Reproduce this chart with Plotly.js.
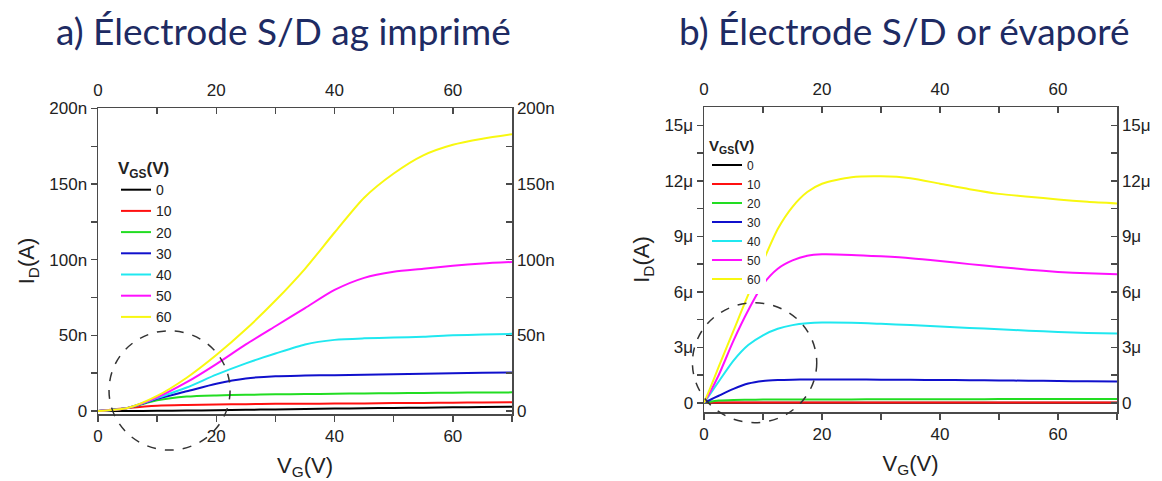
<!DOCTYPE html>
<html>
<head>
<meta charset="utf-8">
<script src="https://cdn.plot.ly/plotly-3.0.1.min.js"></script>
<style>html,body{margin:0;padding:0;background:#fff;}#chart{width:1162px;height:481px;}</style>
</head>
<body>
<div id="chart"></div>
<script>
// ---------- DATA ----------
const vgsLabels = ['0', '10', '20', '30', '40', '50', '60'];
const seriesColors = ['#000000', '#ff1010', '#22dd22', '#1010cc', '#20e8f0', '#ff10ff', '#f8f810'];

// Panel a: printed Ag S/D electrodes, I_D in nA
const vgA = [0, 5, 10, 15, 20, 25, 30, 35, 40, 45, 50, 55, 60, 65, 70];
const idA_0  = [0, 0, 0.1, 0.3, 0.5, 0.8, 1.0, 1.3, 1.6, 1.8, 2.0, 2.2, 2.4, 2.6, 2.8];
const idA_10 = [0, 2, 3.5, 4, 4.3, 4.5, 4.7, 4.8, 4.9, 5.0, 5.2, 5.3, 5.5, 5.6, 5.8];
const idA_20 = [0, 2, 7, 9.5, 10.3, 10.7, 11, 11.2, 11.4, 11.6, 11.8, 11.9, 12.1, 12.2, 12.3];
const idA_30 = [0, 2, 8, 13, 18, 21.5, 23, 23.4, 23.7, 24, 24.3, 24.6, 25, 25.3, 25.5];
const idA_40 = [0, 2, 8.5, 15.5, 24, 31.5, 38, 44, 47, 48, 48.5, 49, 50, 50.5, 51];
const idA_50 = [0, 2, 9, 19, 31, 44, 56, 68, 80, 88, 92, 94, 96, 97.5, 98.5];
const idA_60 = [0, 2, 10, 22, 37, 54, 73, 94, 118, 141, 157, 169, 176, 180, 183];

// Panel b: evaporated Au S/D electrodes, I_D in µA
const vgB = [0, 1, 2.5, 5, 7.5, 10, 12.5, 15, 17.5, 20, 25, 30, 35, 40, 45, 50, 55, 60, 65, 70];
const idB_0  = [0, 0, 0, 0, 0, 0, 0, 0, 0, 0, 0, 0, 0, 0, 0, 0, 0, 0, 0, 0];
const idB_10 = [0, 0.01, 0.02, 0.02, 0.02, 0.02, 0.02, 0.02, 0.02, 0.02, 0.02, 0.02, 0.02, 0.02, 0.02, 0.02, 0.02, 0.02, 0.02, 0.02];
const idB_20 = [0, 0.06, 0.12, 0.15, 0.16, 0.17, 0.17, 0.18, 0.18, 0.18, 0.18, 0.19, 0.19, 0.19, 0.19, 0.2, 0.2, 0.2, 0.2, 0.2];
const idB_30 = [0, 0.15, 0.38, 0.75, 1.04, 1.18, 1.23, 1.25, 1.26, 1.26, 1.26, 1.25, 1.24, 1.23, 1.22, 1.21, 1.19, 1.18, 1.16, 1.15];
const idB_40 = [0, 0.45, 1.15, 2.28, 3.12, 3.65, 4.0, 4.2, 4.3, 4.34, 4.33, 4.27, 4.2, 4.12, 4.05, 3.98, 3.9, 3.83, 3.78, 3.75];
const idB_50 = [0, 0.55, 1.5, 3.36, 5.0, 6.4, 7.25, 7.7, 7.95, 8.03, 8.0, 7.92, 7.82, 7.67, 7.5, 7.35, 7.2, 7.08, 7.0, 6.95];
const idB_60 = [0, 0.75, 1.95, 3.9, 5.85, 7.65, 9.4, 10.6, 11.4, 11.85, 12.2, 12.25, 12.15, 11.85, 11.55, 11.3, 11.15, 11.0, 10.87, 10.78];

const panelATitle = 'a) Électrode S/D ag imprimé';
const panelBTitle = 'b) Électrode S/D or évaporé';

// ---------- TRACES ----------
const seriesA = [idA_0, idA_10, idA_20, idA_30, idA_40, idA_50, idA_60];
const seriesB = [idB_0, idB_10, idB_20, idB_30, idB_40, idB_50, idB_60];
const traces = [];
seriesA.forEach((ys, i) => traces.push({
  x: vgA, y: ys.map(v => v * 1e-9), type: 'scatter', mode: 'lines', name: vgsLabels[i],
  line: {color: seriesColors[i], width: 2, shape: 'spline', smoothing: 0.7},
  xaxis: 'x', yaxis: 'y', legend: 'legend', hoverinfo: 'skip'
}));
seriesB.forEach((ys, i) => traces.push({
  x: vgB, y: ys.map(v => v * 1e-6), type: 'scatter', mode: 'lines', name: vgsLabels[i],
  line: {color: seriesColors[i], width: 2, shape: 'spline', smoothing: 0.7},
  xaxis: 'x2', yaxis: 'y2', legend: 'legend2', hoverinfo: 'skip'
}));
// carriers for the mirrored (top / right) labelled axes
[['x3', 'y'], ['x', 'y3'], ['x4', 'y2'], ['x2', 'y4']].forEach(p => traces.push({
  x: [], y: [], type: 'scatter', mode: 'lines', xaxis: p[0], yaxis: p[1], showlegend: false, hoverinfo: 'skip'
}));

// ---------- LAYOUT ----------
const W = 1162, H = 481;
const AX = '#4a4a4a';
const tickFont = {family: 'Liberation Sans, Arial, sans-serif', size: 17, color: '#222'};
const titleFont = {family: 'Liberation Sans, Arial, sans-serif', size: 22, color: '#222'};

function xAx(dom, anchor, side, extra) {
  return Object.assign({
    domain: dom, anchor: anchor, side: side, range: [0, 70], dtick: 20, tick0: 0,
    ticks: side === 'top' ? 'inside' : 'outside', ticklen: 6, tickwidth: 1.5, tickcolor: AX,
    minor: {dtick: 10, ticks: side === 'top' ? 'inside' : 'outside', ticklen: 6, tickwidth: 1.5, tickcolor: AX},
    showline: true, linecolor: AX, linewidth: 1.5, showgrid: false, zeroline: false,
    tickfont: tickFont, fixedrange: true
  }, extra || {});
}
function yAx(dom, anchor, side, rng, dt, extra) {
  return Object.assign({
    domain: dom, anchor: anchor, side: side, range: rng, dtick: dt, tick0: 0,
    exponentformat: 'SI', showexponent: 'all',
    ticks: side === 'right' ? 'inside' : 'outside', ticklen: 6, tickwidth: 1.5, tickcolor: AX,
    minor: {dtick: dt / 2, ticks: side === 'right' ? 'inside' : 'outside', ticklen: 6, tickwidth: 1.5, tickcolor: AX},
    showline: true, linecolor: AX, linewidth: 1.5, showgrid: false, zeroline: false,
    tickfont: tickFont, fixedrange: true
  }, extra || {});
}

const domAx = [98 / W, 512 / W], domAy = [(H - 414) / H, (H - 108) / H];
const domBx = [704 / W, 1117 / W], domBy = [(H - 412) / H, (H - 107) / H];
const rngA = [-2e-9, 200.3e-9], rngB = [-0.5e-6, 16e-6];

const layout = {
  width: W, height: H, margin: {l: 0, r: 0, t: 0, b: 0},
  paper_bgcolor: '#ffffff', plot_bgcolor: '#ffffff', showlegend: true,
  font: {family: 'Liberation Sans, Arial, sans-serif', size: 17, color: '#222'},
  xaxis: xAx(domAx, 'y', 'bottom', {title: {text: 'V<sub>G</sub>(V)', font: titleFont, standoff: 12}}),
  yaxis: yAx(domAy, 'x', 'left', rngA, 50e-9, {title: {text: 'I<sub>D</sub>(A)', font: titleFont, standoff: 8}}),
  xaxis3: xAx(domAx, 'y', 'top', {overlaying: 'x', ticklabelstandoff: 4}),
  yaxis3: yAx(domAy, 'x', 'right', rngA, 50e-9, {overlaying: 'y'}),
  xaxis2: xAx(domBx, 'y2', 'bottom', {title: {text: 'V<sub>G</sub>(V)', font: titleFont, standoff: 12}}),
  yaxis2: yAx(domBy, 'x2', 'left', rngB, 3e-6, {title: {text: 'I<sub>D</sub>(A)', font: titleFont, standoff: 8}}),
  xaxis4: xAx(domBx, 'y2', 'top', {overlaying: 'x2', ticklabelstandoff: 4}),
  yaxis4: yAx(domBy, 'x2', 'right', rngB, 3e-6, {overlaying: 'y2'}),
  legend: {
    x: 116 / W, y: 1 - 152 / H, xanchor: 'left', yanchor: 'top',
    bgcolor: 'rgba(255,255,255,0)', borderwidth: 0, tracegroupgap: 0,
    font: {family: 'Liberation Sans, Arial, sans-serif', size: 14, color: '#222'},
    title: {text: '<b>V<sub>GS</sub>(V)</b>', font: {family: 'Liberation Sans, Arial, sans-serif', size: 17, color: '#222'}}
  },
  legend2: {
    x: 707 / W, y: 1 - 131 / H, xanchor: 'left', yanchor: 'top',
    bgcolor: '#ffffff', borderwidth: 0, tracegroupgap: 0,
    font: {family: 'Liberation Sans, Arial, sans-serif', size: 12, color: '#222'},
    title: {text: '<b>V<sub>GS</sub>(V)</b>', font: {family: 'Liberation Sans, Arial, sans-serif', size: 15, color: '#222'}}
  },
  shapes: [
    {type: 'circle', xref: 'x domain', yref: 'y domain', x0: 0.0266, x1: 0.319, y0: -0.118, y1: 0.272,
     line: {color: '#333', width: 1.5, dash: 'dash'}, layer: 'above'},
    {type: 'circle', xref: 'x2 domain', yref: 'y2 domain', x0: -0.028, x1: 0.273, y0: -0.035, y1: 0.358,
     line: {color: '#333', width: 1.5, dash: 'dash'}, layer: 'above'}
  ],
  annotations: [
    {text: panelATitle, xref: 'paper', yref: 'paper', x: 283.5 / W, y: 1 - 30 / H, xanchor: 'center', yanchor: 'middle',
     showarrow: false, font: {family: 'Lato, sans-serif', size: 37, color: '#1e2b63'}},
    {text: panelBTitle, xref: 'paper', yref: 'paper', x: 904 / W, y: 1 - 30 / H, xanchor: 'center', yanchor: 'middle',
     showarrow: false, font: {family: 'Lato, sans-serif', size: 37, color: '#1e2b63'}}
  ]
};

Plotly.newPlot('chart', traces, layout, {displayModeBar: false, staticPlot: true});
</script>
</body>
</html>
